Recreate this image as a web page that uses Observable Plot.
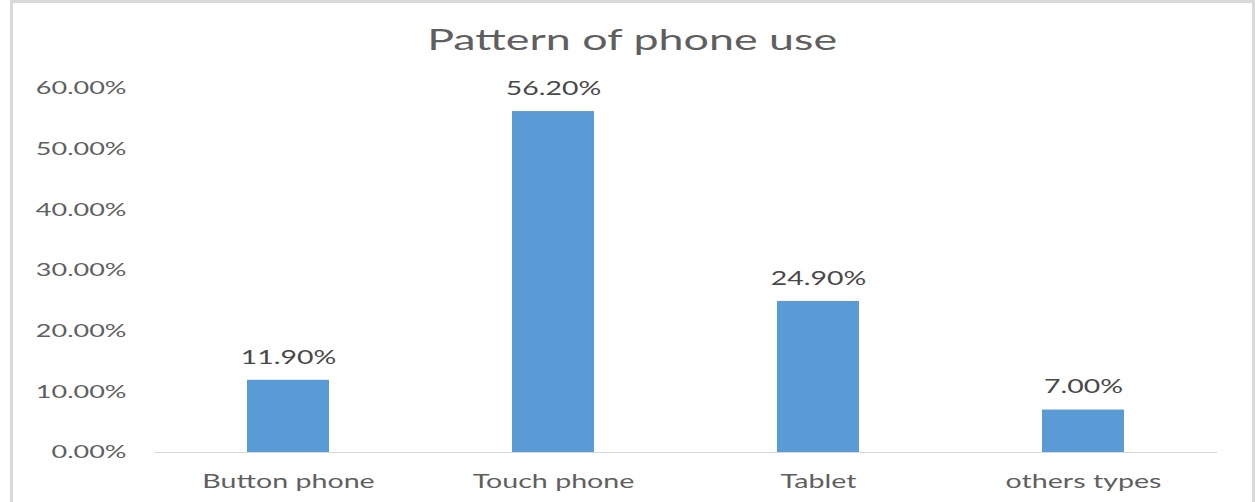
<!DOCTYPE html>
<html><head><meta charset="utf-8">
<script src="https://cdn.jsdelivr.net/npm/d3@7"></script>
<script src="https://cdn.jsdelivr.net/npm/@observablehq/plot@0.6"></script>
<style>
body{margin:0;background:#fff;font-family:Lato,sans-serif;}
#wrap{position:relative;width:1255px;height:502px;overflow:hidden;}
#frame{position:absolute;left:10px;top:0;width:1239px;height:600px;border:3px solid #d9d9d9;border-bottom:none;}
#title{position:absolute;left:10px;width:1245px;top:22px;text-align:center;font-size:28px;line-height:34px;color:#5f5f5f;white-space:nowrap;}
#title span{display:inline-block;transform:scaleX(1.6);transform-origin:center;}
#chart{position:absolute;left:0;top:65px;}
</style></head>
<body>
<div id="wrap">
  <div id="frame"></div>
  <div id="title"><span>Pattern of phone use</span></div>
  <div id="chart"></div>
</div>
<script>
const categories = ["Button phone", "Touch phone", "Tablet", "others types"];
const values = [11.9, 56.2, 24.9, 7.0];
const yTicks = [0, 10, 20, 30, 40, 50, 60];

const data = categories.map((c, i) => ({category: c, value: values[i]}));
const pct = d => d.toFixed(2) + "%";

const plot = Plot.plot({
  width: 1255,
  height: 437,
  marginTop: 23,
  marginBottom: 50,
  marginLeft: 154,
  marginRight: 38,
  style: {background: "transparent", fontFamily: "Lato, sans-serif", fontSize: "18px", color: "#5f5f5f"},
  x: {domain: categories, paddingInner: 0.69, paddingOuter: 0.345, tickSize: 0, tickPadding: 21, label: null},
  y: {domain: [0, 60], ticks: yTicks.length - 1, tickFormat: pct, tickSize: 0, tickPadding: 28, label: null},
  marks: [
    Plot.barY(data, {x: "category", y: "value", fill: "#5b9bd5"}),
    Plot.ruleY([0], {stroke: "#d9d9d9", strokeWidth: 1.2}),
    Plot.text(data, {x: "category", y: "value", text: d => pct(d.value), dy: -23, fontSize: 20, fill: "#484848"})
  ]
});
document.getElementById("chart").appendChild(plot);

// horizontally widen text glyphs to match the stretched reference
const xLabels = new Set(plot.querySelectorAll("g[aria-label='x-axis tick label'] text, g[aria-label='x-axis'] text"));
const yLabels = new Set(plot.querySelectorAll("g[aria-label='y-axis tick label'] text, g[aria-label='y-axis'] text"));
xLabels.forEach(t => t.setAttribute("font-size", 20));
plot.querySelectorAll("text").forEach(t => {
  const k = yLabels.has(t) ? 1.5 : xLabels.has(t) ? 1.43 : 1.42;
  const L = t.getComputedTextLength();
  if (L > 0) {
    t.setAttribute("textLength", L * k);
    t.setAttribute("lengthAdjust", "spacingAndGlyphs");
  }
});
</script>
</body></html>
